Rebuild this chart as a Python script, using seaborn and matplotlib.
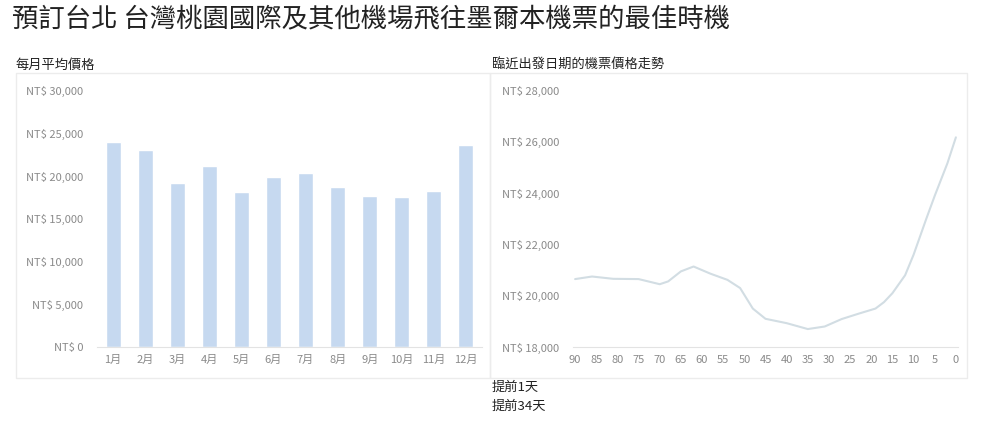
import matplotlib
matplotlib.use("Agg")
from matplotlib import pyplot as plt
from matplotlib.patches import Rectangle
from matplotlib.ticker import FuncFormatter
import pandas as pd
import seaborn as sns

# monthly average price
months = ["1月", "2月", "3月", "4月", "5月", "6月", "7月", "8月", "9月", "10月", "11月", "12月"]
month_price = [24000, 23100, 19200, 21200, 18150, 19900, 20400, 18700, 17700, 17500, 18250, 23700]

# price trend vs days before departure
days = [90, 86, 81, 75, 70, 68, 65, 62, 58, 54, 51, 48, 45, 40, 35, 31, 27, 23, 19,
        17, 15, 12, 10, 7, 5, 2, 0]
day_price = [20650, 20750, 20660, 20650, 20450, 20560, 20950, 21140, 20860, 20620, 20300,
             19500, 19100, 18930, 18700, 18800, 19090, 19300, 19500, 19750, 20100, 20800,
             21600, 23000, 23900, 25170, 26180]
day_ticks = list(range(90, -1, -5))

notes = ["提前1天", "提前34天"]

df_month = pd.DataFrame({"month": months, "price": month_price})
df_day = pd.DataFrame({"days": days, "price": day_price})

sns.set_style("white")
plt.rcParams['font.family'] = ['Noto Sans CJK TC', 'DejaVu Sans']

fig = plt.figure(figsize=(10, 4.25), dpi=100)
W, H = 1000, 425

def fx(px):
    return px / W

def fy(py):
    return 1 - py / H

# panel frames
for x0, x1 in [(16, 490), (490, 967)]:
    fig.patches.append(Rectangle((fx(x0), fy(378)), fx(x1 - x0), (378 - 73) / H,
                                 transform=fig.transFigure, fill=False,
                                 edgecolor="#ececec", linewidth=1))

fig.text(fx(12), fy(20), "預訂台北 台灣桃園國際及其他機場飛往墨爾本機票的最佳時機",
         fontsize=19, color="#222222", va="center", ha="left")
fig.text(fx(16), fy(65), "每月平均價格", fontsize=9.5, color="#222222", va="center")
fig.text(fx(492), fy(65), "臨近出發日期的機票價格走勢", fontsize=9.5, color="#222222", va="center")
fig.text(fx(492), fy(387), notes[0], fontsize=9.5, color="#222222", va="center")
fig.text(fx(492), fy(406), notes[1], fontsize=9.5, color="#222222", va="center")

money = FuncFormatter(lambda v, p: f"NT$ {v:,.0f}")

# left: monthly bars
ax1 = fig.add_axes([fx(97), fy(347), fx(385), (347 - 90.7) / H])
sns.barplot(data=df_month, x="month", y="price", color="#c6d9f0", saturation=1,
            width=0.47, ax=ax1)
ax1.set_ylim(0, 30000)
ax1.set_yticks(range(0, 30001, 5000))
ax1.yaxis.set_major_formatter(money)
ax1.set_xlim(-0.5, 11.5)

# right: trend line
ax2 = fig.add_axes([fx(573), fy(347), fx(385), (347 - 90.7) / H])
sns.lineplot(data=df_day, x="days", y="price", color="#d2dde3", linewidth=1.5, ax=ax2)
ax2.set_ylim(18000, 28000)
ax2.set_yticks(range(18000, 28001, 2000))
ax2.yaxis.set_major_formatter(money)
ax2.set_xlim(90.5, -0.5)
ax2.set_xticks(day_ticks)

for ax in (ax1, ax2):
    ax.set_xlabel("")
    ax.set_ylabel("")
    for s in ["top", "right", "left"]:
        ax.spines[s].set_visible(False)
    ax.spines["bottom"].set_color("#e3e3e3")
    ax.tick_params(axis="both", length=0, labelsize=8, labelcolor="#8a8a8a")
    ax.tick_params(axis="y", pad=10)
    ax.tick_params(axis="x", pad=6)

fig.savefig("out.png", dpi=100)
